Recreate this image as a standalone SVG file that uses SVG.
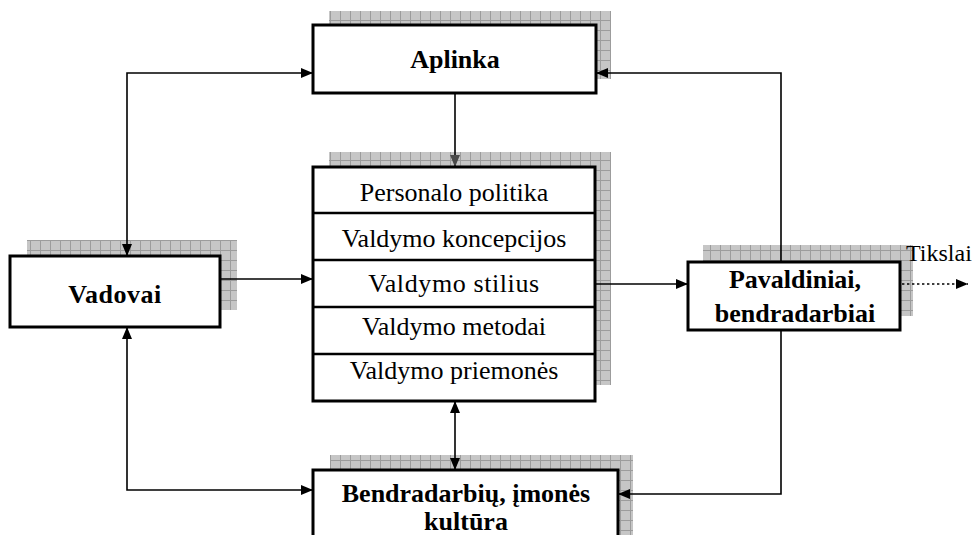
<svg xmlns="http://www.w3.org/2000/svg" width="975" height="535" viewBox="0 0 975 535">
  <defs>
    <!-- hatched grey drop-shadow fill -->
    <pattern id="grid" width="10" height="10" patternUnits="userSpaceOnUse">
      <rect width="10" height="10" fill="#c6c6c6"/>
      <path d="M0 0.5 H10 M0.5 0 V10" stroke="#9c9c9c" stroke-width="1"/>
    </pattern>
    <marker id="head" viewBox="0 0 12 10" refX="12" refY="5" markerWidth="12" markerHeight="10" markerUnits="userSpaceOnUse" orient="auto-start-reverse">
      <path d="M0 0 L12 5 L0 10 Z" fill="#000"/>
    </marker>
    <marker id="headGrey" viewBox="0 0 12 10" refX="12" refY="5" markerWidth="12" markerHeight="10" markerUnits="userSpaceOnUse" orient="auto">
      <path d="M0 0 L12 5 L0 10 Z" fill="#4a4a4a"/>
    </marker>
  </defs>
  <style>
    .shadow { fill: url(#grid); }
    .box { fill: #fff; stroke: #000; stroke-width: 3; }
    .sep { stroke: #000; stroke-width: 2.5; }
    .conn { fill: none; stroke: #000; stroke-width: 1.6; }
    .bold { font-family: "Liberation Serif", "Times New Roman", serif; font-weight: bold; font-size: 26px; fill: #000; text-anchor: middle; }
    .reg { font-family: "Liberation Serif", "Times New Roman", serif; font-size: 26px; fill: #000; text-anchor: middle; }
  </style>
  <rect width="975" height="535" fill="#fff"/>

  <!-- shadows -->
  <rect class="shadow" x="329" y="11" width="282" height="68"/>
  <rect class="shadow" x="27" y="240" width="210" height="70"/>
  <rect class="shadow" x="329" y="152" width="282" height="233"/>
  <rect class="shadow" x="703" y="245" width="210" height="71"/>
  <rect class="shadow" x="330" y="455" width="303" height="90"/>

  <!-- connectors -->
  <g id="connectors">
    <path class="conn" d="M313 73 H127 V256" marker-start="url(#head)" marker-end="url(#head)"/>
    <path class="conn" d="M127 327 V490 H313" marker-start="url(#head)" marker-end="url(#head)"/>
    <path class="conn" d="M781 262 V73 H596" marker-end="url(#head)"/>
    <path class="conn" d="M781 330 V494 H618" marker-end="url(#head)"/>
    <path class="conn" d="M455 93 V167" marker-end="url(#headGrey)"/>
    <path class="conn" d="M455 401 V470" marker-start="url(#head)" marker-end="url(#head)"/>
    <path class="conn" d="M220 279 H313" marker-end="url(#head)"/>
    <path class="conn" d="M595 284 H688" marker-end="url(#head)"/>
    <path class="conn" d="M902 284 H968" stroke-width="2.4" stroke-dasharray="2.4 2.6" marker-end="url(#head)"/>
  </g>

  <g id="aplinka">
    <rect class="box" x="313" y="25" width="283" height="68"/>
    <text class="bold" x="455" y="68">Aplinka</text>
  </g>

  <g id="vadovai">
    <rect class="box" x="10" y="256" width="210" height="71"/>
    <text class="bold" x="115" y="303" letter-spacing="0.5">Vadovai</text>
  </g>

  <g id="valdymas">
    <rect class="box" x="313" y="167" width="282" height="234"/>
    <line class="sep" x1="313" y1="213" x2="595" y2="213"/>
    <line class="sep" x1="313" y1="260" x2="595" y2="260"/>
    <line class="sep" x1="313" y1="307" x2="595" y2="307"/>
    <line class="sep" x1="313" y1="354" x2="595" y2="354"/>
    <text class="reg" x="454" y="201">Personalo politika</text>
    <text class="reg" x="454" y="247">Valdymo koncepcijos</text>
    <text class="reg" x="454" y="292" letter-spacing="0.6">Valdymo stilius</text>
    <text class="reg" x="454" y="335">Valdymo metodai</text>
    <text class="reg" x="454" y="379">Valdymo priemonės</text>
  </g>

  <g id="pavaldiniai">
    <rect class="box" x="688" y="262" width="212" height="68"/>
    <text class="bold" x="795" y="288">Pavaldiniai,</text>
    <text class="bold" x="795" y="322">bendradarbiai</text>
  </g>

  <g id="kultura">
    <rect class="box" x="313" y="470" width="305" height="80"/>
    <text class="bold" x="466" y="502">Bendradarbių, įmonės</text>
    <text class="bold" x="466" y="530">kultūra</text>
  </g>

  <g id="tikslai">
    <text font-family="'Liberation Serif', 'Times New Roman', serif" font-size="24" x="906" y="261">Tikslai</text>
  </g>
</svg>
